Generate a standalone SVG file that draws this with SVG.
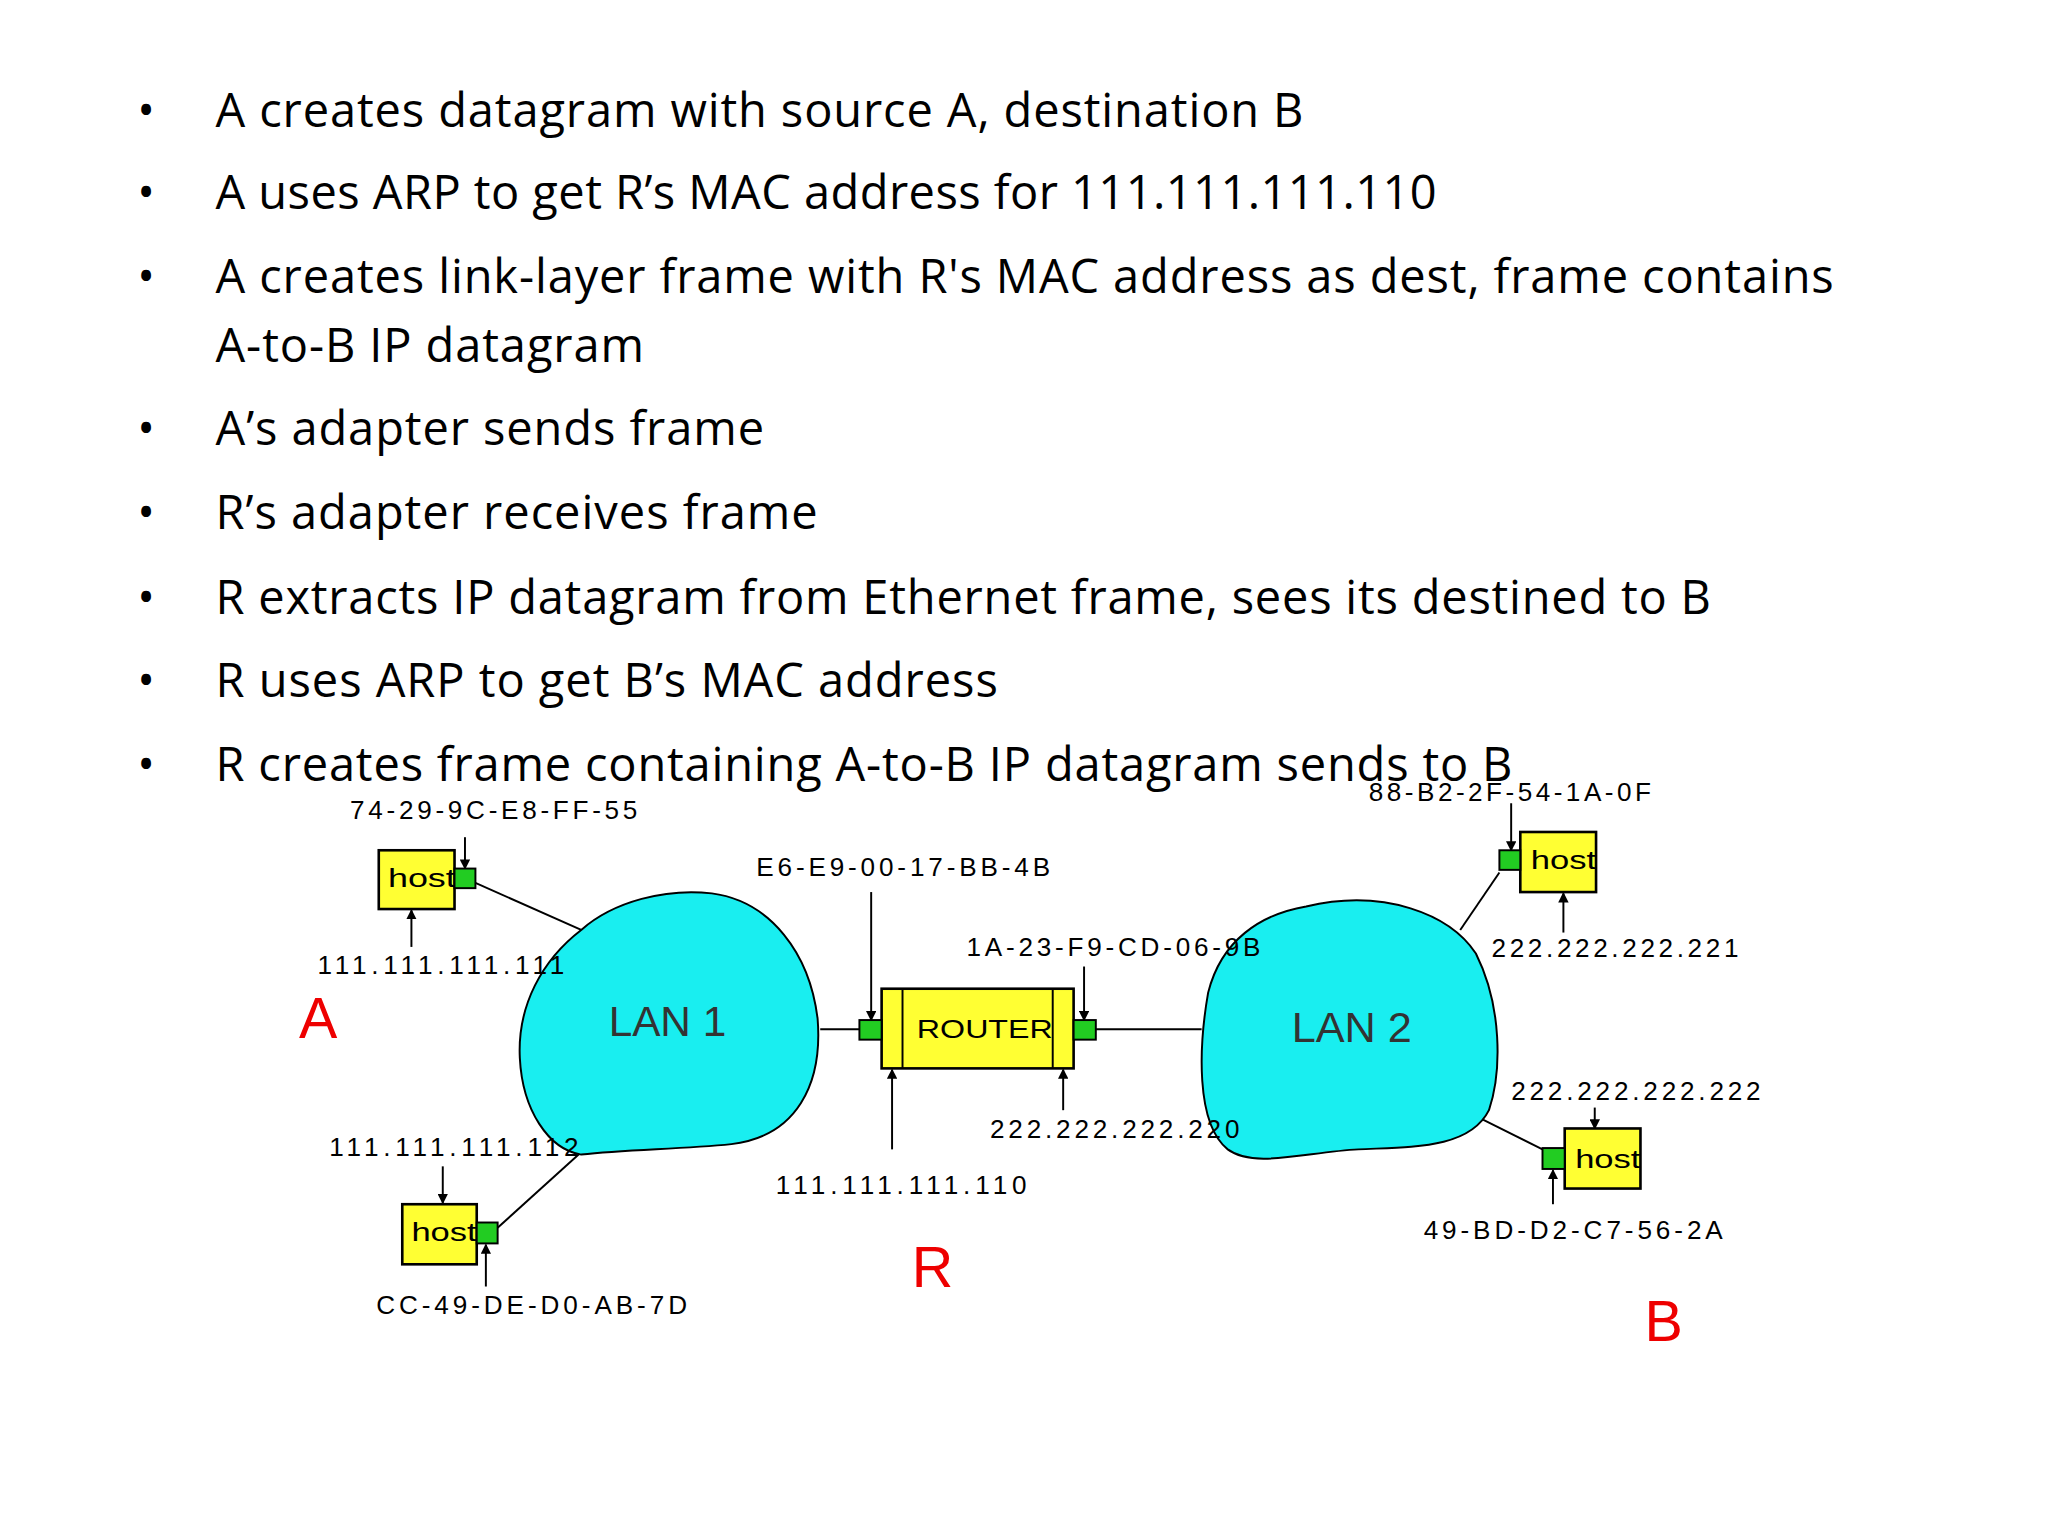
<svg xmlns="http://www.w3.org/2000/svg" width="2048" height="1536" viewBox="0 0 2048 1536">
<style>
.b{font-family:"Open Sans","Liberation Sans",sans-serif;font-size:36px;fill:#000}
.s{font-family:"Liberation Sans",Arial,sans-serif;font-size:20px;fill:#000}
.lt{font-family:"Liberation Sans",Arial,sans-serif;font-size:32px;fill:#333}
.r{font-family:"Liberation Sans",Arial,sans-serif;font-size:44px;fill:#e00}
.host{fill:#ffff33;stroke:#000;stroke-width:2}
.nic{fill:#22cc22;stroke:#000;stroke-width:1.5}
.lan{fill:#19eef0;stroke:#000;stroke-width:1.5}
.ln{stroke:#000;stroke-width:1.5;fill:none}
.ar{stroke:#000;stroke-width:1.5;fill:none;marker-end:url(#ah)}
</style>
<defs><marker id="ah" markerWidth="8" markerHeight="8" refX="7" refY="4" orient="auto" markerUnits="userSpaceOnUse"><path d="M0,0 L8,4 L0,8 Z" fill="#000"/></marker></defs>
<rect width="2048" height="1536" fill="#fff"/>
<g transform="scale(1.3061)">
<g id="bullets">
<text class="b" x="105" y="97">•</text><text class="b" x="165" y="97" textLength="833">A creates datagram with source A, destination B</text>
<text class="b" x="105" y="160">•</text><text class="b" x="165" y="160" textLength="935">A uses ARP to get R’s MAC address for 111.111.111.110</text>
<text class="b" x="105" y="224">•</text><text class="b" x="165" y="224" textLength="1239">A creates link-layer frame with R's MAC address as dest, frame contains</text>
<text class="b" x="165" y="277" textLength="328">A-to-B IP datagram</text>
<text class="b" x="105" y="341">•</text><text class="b" x="165" y="341" textLength="420">A’s adapter sends frame</text>
<text class="b" x="105" y="405">•</text><text class="b" x="165" y="405" textLength="461">R’s adapter receives frame</text>
<text class="b" x="105" y="470">•</text><text class="b" x="165" y="470" textLength="1145">R extracts IP datagram from Ethernet frame, sees its destined to B</text>
<text class="b" x="105" y="534">•</text><text class="b" x="165" y="534" textLength="599">R uses ARP to get B’s MAC address</text>
<text class="b" x="105" y="598">•</text><text class="b" x="165" y="598" textLength="993">R creates frame containing A-to-B IP datagram sends to B</text>
</g>
<g id="connectors">
<line class="ln" x1="364" y1="676" x2="445" y2="712"/>
<line class="ln" x1="381" y1="940" x2="443" y2="884"/>
<line class="ln" x1="628" y1="788" x2="658" y2="788"/>
<line class="ln" x1="839" y1="788" x2="920" y2="788"/>
<line class="ln" x1="1148" y1="668" x2="1118" y2="712"/>
<line class="ln" x1="1135" y1="857" x2="1181" y2="880"/>
<line class="ar" x1="356" y1="641" x2="356" y2="665"/>
<line class="ar" x1="315" y1="725" x2="315" y2="697"/>
<line class="ar" x1="339" y1="893" x2="339" y2="921"/>
<line class="ar" x1="372" y1="985" x2="372" y2="953"/>
<line class="ar" x1="667" y1="683" x2="667" y2="781"/>
<line class="ar" x1="830" y1="740" x2="830" y2="781"/>
<line class="ar" x1="683" y1="880" x2="683" y2="819"/>
<line class="ar" x1="814" y1="850" x2="814" y2="819"/>
<line class="ar" x1="1157" y1="615" x2="1157" y2="651"/>
<line class="ar" x1="1197" y1="714" x2="1197" y2="684"/>
<line class="ar" x1="1221" y1="848" x2="1221" y2="864"/>
<line class="ar" x1="1189" y1="922" x2="1189" y2="896"/>
</g>
<g id="lan1"><path class="lan" d="M445,712 C470,690 510,680 545,684 C590,690 620,730 626,780 C630,830 610,870 560,876 C520,880 480,880 445,884 C420,880 400,850 398,810 C396,770 415,735 445,712 Z"/><text class="lt" x="511" y="793" text-anchor="middle" textLength="90" lengthAdjust="spacingAndGlyphs">LAN 1</text></g>
<g id="lan2"><path class="lan" d="M1000,694 C1060,680 1110,700 1130,730 C1150,770 1150,820 1140,850 C1125,880 1080,878 1040,880 C1000,882 960,895 940,880 C915,860 918,800 925,760 C935,720 965,700 1000,694 Z"/><text class="lt" x="1035" y="798" text-anchor="middle" textLength="92" lengthAdjust="spacingAndGlyphs">LAN 2</text></g>
<g id="hostA"><rect class="host" x="290" y="651" width="58" height="45"/><text class="s" x="297" y="679" textLength="52" lengthAdjust="spacingAndGlyphs">host</text><rect class="nic" x="348" y="665" width="16" height="15"/></g>
<g id="host112"><rect class="host" x="308" y="922" width="57" height="46"/><text class="s" x="315" y="950" textLength="50" lengthAdjust="spacingAndGlyphs">host</text><rect class="nic" x="365" y="936" width="16" height="16"/></g>
<g id="router"><rect class="host" x="675" y="757" width="147" height="61"/><line class="ln" x1="691" y1="757" x2="691" y2="818"/><line class="ln" x1="806" y1="757" x2="806" y2="818"/><text class="s" x="754" y="795" text-anchor="middle" textLength="104" lengthAdjust="spacingAndGlyphs">ROUTER</text><rect class="nic" x="658" y="781" width="17" height="15"/><rect class="nic" x="822" y="781" width="17" height="15"/></g>
<g id="host221"><rect class="host" x="1164" y="637" width="58" height="46"/><text class="s" x="1172" y="665" textLength="50" lengthAdjust="spacingAndGlyphs">host</text><rect class="nic" x="1148" y="651" width="16" height="15"/></g>
<g id="hostB"><rect class="host" x="1198" y="864" width="58" height="46"/><text class="s" x="1206" y="894" textLength="50" lengthAdjust="spacingAndGlyphs">host</text><rect class="nic" x="1181" y="879" width="17" height="16"/></g>
<g id="labels">
<text class="s" x="268" y="627" textLength="220">74-29-9C-E8-FF-55</text>
<text class="s" x="243" y="746" textLength="189">111.111.111.111</text>
<text class="s" x="252" y="885" textLength="191">111.111.111.112</text>
<text class="s" x="288" y="1006" textLength="238">CC-49-DE-D0-AB-7D</text>
<text class="s" x="579" y="671" textLength="225">E6-E9-00-17-BB-4B</text>
<text class="s" x="740" y="732" textLength="225">1A-23-F9-CD-06-9B</text>
<text class="s" x="594" y="914" textLength="192">111.111.111.110</text>
<text class="s" x="758" y="871" textLength="191">222.222.222.220</text>
<text class="s" x="1048" y="613" textLength="216">88-B2-2F-54-1A-0F</text>
<text class="s" x="1142" y="733" textLength="189">222.222.222.221</text>
<text class="s" x="1157" y="842" textLength="191">222.222.222.222</text>
<text class="s" x="1090" y="949" textLength="229">49-BD-D2-C7-56-2A</text>
<text class="r" x="229" y="795">A</text>
<text class="r" x="698" y="985">R</text>
<text class="r" x="1259" y="1027">B</text>
</g>
</g>
</svg>
